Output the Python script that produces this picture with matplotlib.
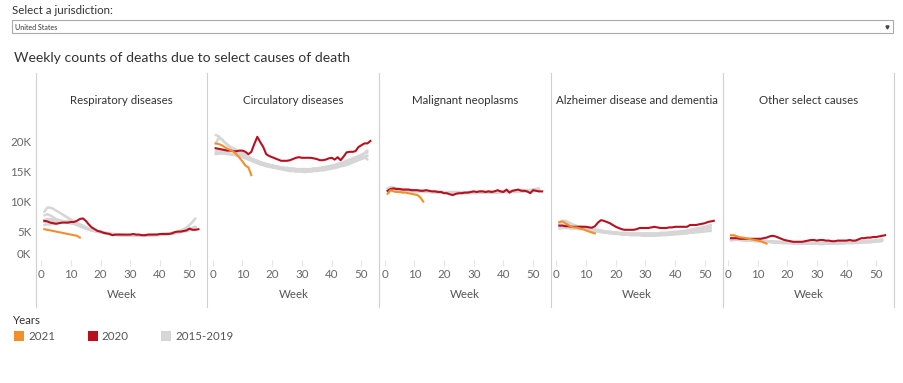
import matplotlib
matplotlib.use("Agg")
import matplotlib.pyplot as plt
from matplotlib.lines import Line2D
from matplotlib.patches import Rectangle
import matplotlib.transforms as mtrans
import numpy as np

plt.rcParams['font.family'] = ['Lato', 'DejaVu Sans']

# ---------------- data (weekly deaths, thousands) ----------------
causes = ["Respiratory diseases", "Circulatory diseases", "Malignant neoplasms",
          "Alzheimer disease and dementia", "Other select causes"]
years_hist = ["2015", "2016", "2017", "2018", "2019"]
x_ticks = [0, 10, 20, 30, 40, 50]
y_ticks = [0, 5, 10, 15, 20]
y_tick_labels = ["0K", "5K", "10K", "15K", "20K"]
legend_labels = ["2021", "2020", "2015-2019"]

# Respiratory diseases
resp_2020 = [6.7, 6.6, 6.4, 6.3, 6.2, 6.3, 6.4, 6.4, 6.4, 6.5,
             6.5, 6.7, 7.0, 7.1, 6.7, 6.1, 5.6, 5.3, 5.0, 4.9,
             4.7, 4.6, 4.5, 4.3, 4.4, 4.4, 4.4, 4.4, 4.4, 4.4,
             4.5, 4.4, 4.4, 4.3, 4.3, 4.4, 4.4, 4.4, 4.4, 4.5,
             4.5, 4.5, 4.5, 4.6, 4.8, 4.9, 4.9, 5.0, 5.1, 5.4,
             5.2, 5.2, 5.3]
resp_2021 = [5.3, 5.2, 5.1, 5.0, 4.9, 4.8, 4.7, 4.6, 4.5, 4.4, 4.3, 4.2, 3.9]
resp_2015 = [7.6, 7.8, 7.6, 7.3, 7.0, 6.8, 6.6, 6.5, 6.4, 6.3, 6.2, 6.0, 5.8, 5.6, 5.4, 5.3, 5.1, 5.0,
             4.9, 4.8, 4.7, 4.6, 4.5, 4.5, 4.4, 4.3, 4.3, 4.2, 4.2, 4.2, 4.2, 4.2, 4.2, 4.2, 4.2, 4.2,
             4.3, 4.3, 4.3, 4.3, 4.4, 4.4, 4.5, 4.5, 4.6, 4.7, 4.8, 4.9, 5.0, 5.1, 5.3, 5.6]
resp_2016 = [6.0, 6.1, 6.1, 6.2, 6.3, 6.4, 6.5, 6.6, 6.7, 6.6, 6.5, 6.3, 6.1, 5.9, 5.6, 5.4, 5.2, 5.0,
             4.9, 4.8, 4.7, 4.6, 4.5, 4.5, 4.4, 4.4, 4.3, 4.3, 4.3, 4.3, 4.2, 4.2, 4.2, 4.3, 4.3, 4.3,
             4.3, 4.4, 4.4, 4.4, 4.5, 4.5, 4.6, 4.6, 4.7, 4.8, 4.9, 5.0, 5.2, 5.3, 5.5, 5.7]
resp_2017 = [6.8, 7.0, 7.0, 6.9, 6.8, 6.8, 6.7, 6.6, 6.5, 6.3, 6.2, 6.0, 5.8, 5.6, 5.4, 5.2, 5.1, 5.0,
             4.9, 4.8, 4.7, 4.6, 4.5, 4.4, 4.4, 4.3, 4.3, 4.3, 4.2, 4.2, 4.2, 4.2, 4.2, 4.2, 4.3, 4.3,
             4.3, 4.3, 4.4, 4.4, 4.5, 4.5, 4.6, 4.7, 4.8, 4.9, 5.1, 5.3, 5.6, 6.0, 6.5, 7.1]
resp_2018 = [8.2, 8.9, 8.9, 8.7, 8.4, 8.1, 7.8, 7.5, 7.2, 6.9, 6.6, 6.3, 6.0, 5.8, 5.6, 5.4, 5.2, 5.1,
             5.0, 4.9, 4.8, 4.7, 4.6, 4.5, 4.5, 4.4, 4.4, 4.3, 4.3, 4.3, 4.3, 4.3, 4.3, 4.3, 4.3, 4.3,
             4.4, 4.4, 4.4, 4.4, 4.5, 4.5, 4.6, 4.6, 4.7, 4.8, 4.9, 5.0, 5.1, 5.3, 5.5, 5.7]
resp_2019 = [6.5, 6.6, 6.6, 6.6, 6.6, 6.6, 6.6, 6.6, 6.5, 6.4, 6.3, 6.1, 5.9, 5.7, 5.5, 5.3, 5.1, 5.0,
             4.9, 4.8, 4.7, 4.6, 4.5, 4.5, 4.4, 4.4, 4.3, 4.3, 4.3, 4.3, 4.2, 4.2, 4.2, 4.2, 4.3, 4.3,
             4.3, 4.3, 4.4, 4.4, 4.4, 4.5, 4.5, 4.6, 4.7, 4.8, 4.9, 5.0, 5.1, 5.3, 5.4, 5.6]

# Circulatory diseases
circ_2020 = [18.8, 18.7, 18.6, 18.5, 18.4, 18.4, 18.3, 18.3, 18.4, 18.4,
             18.2, 17.8, 18.2, 19.5, 20.7, 19.8, 19.0, 17.8, 17.5, 17.3,
             17.1, 16.9, 16.7, 16.7, 16.7, 16.8, 17.0, 17.2, 17.3, 17.2,
             17.2, 17.2, 17.2, 17.1, 17.0, 16.8, 16.8, 16.9, 17.1, 17.2,
             16.9, 17.3, 16.8, 17.4, 18.1, 18.2, 18.2, 18.3, 19.0, 19.3,
             19.6, 19.6, 20.0]
circ_2021 = [19.6, 19.5, 19.3, 19.0, 18.7, 18.5, 18.2, 17.8, 17.2, 16.6, 15.9, 15.6, 14.3]
circ_2015 = [21.0, 20.8, 20.3, 19.8, 19.4, 19.0, 18.8, 18.5, 18.2, 18.0, 17.7, 17.4, 17.1, 16.9, 16.7,
             16.5, 16.3, 16.2, 16.0, 15.9, 15.8, 15.7, 15.6, 15.5, 15.4, 15.3, 15.3, 15.2, 15.2, 15.1,
             15.1, 15.1, 15.1, 15.1, 15.2, 15.2, 15.3, 15.3, 15.4, 15.5, 15.6, 15.7, 15.8, 15.9, 16.0,
             16.2, 16.4, 16.6, 16.8, 17.0, 17.2, 17.5]
circ_2016 = [18.0, 18.2, 18.1, 18.0, 17.9, 17.8, 17.7, 17.6, 17.4, 17.3, 17.1, 16.9, 16.7, 16.5, 16.3,
             16.1, 16.0, 15.8, 15.7, 15.6, 15.5, 15.4, 15.3, 15.2, 15.1, 15.0, 15.0, 14.9, 14.9, 14.9,
             14.8, 14.9, 14.9, 15.0, 15.0, 15.1, 15.1, 15.2, 15.3, 15.4, 15.5, 15.6, 15.8, 15.9, 16.1,
             16.3, 16.5, 16.7, 16.9, 17.1, 17.3, 17.6]
circ_2017 = [18.4, 18.6, 18.5, 18.3, 18.1, 17.9, 17.7, 17.6, 17.5, 17.4, 17.2, 17.0, 16.8, 16.6, 16.4,
             16.2, 16.0, 15.9, 15.8, 15.7, 15.6, 15.5, 15.4, 15.3, 15.2, 15.2, 15.1, 15.1, 15.0, 15.0,
             15.0, 15.0, 15.1, 15.1, 15.2, 15.2, 15.3, 15.4, 15.5, 15.6, 15.7, 15.9, 16.0, 16.2, 16.4,
             16.6, 16.8, 17.0, 17.3, 17.6, 18.0, 18.4]
circ_2018 = [19.5, 20.5, 20.3, 19.8, 19.3, 18.9, 18.5, 18.2, 17.9, 17.7, 17.4, 17.2, 17.0, 16.8, 16.6,
             16.4, 16.2, 16.1, 16.0, 15.9, 15.8, 15.7, 15.6, 15.5, 15.5, 15.4, 15.4, 15.3, 15.3, 15.3,
             15.3, 15.3, 15.3, 15.4, 15.4, 15.5, 15.5, 15.6, 15.7, 15.8, 15.9, 16.0, 16.2, 16.3, 16.5,
             16.7, 16.9, 17.1, 17.3, 17.4, 17.4, 16.9]
circ_2019 = [17.8, 17.9, 17.9, 17.9, 17.8, 17.8, 17.7, 17.7, 17.6, 17.5, 17.4, 17.2, 17.0, 16.8, 16.6,
             16.4, 16.2, 16.1, 16.0, 15.9, 15.8, 15.7, 15.6, 15.5, 15.5, 15.4, 15.4, 15.3, 15.3, 15.3,
             15.3, 15.3, 15.3, 15.4, 15.4, 15.5, 15.6, 15.7, 15.8, 15.9, 16.0, 16.2, 16.3, 16.5, 16.7,
             16.9, 17.1, 17.3, 17.5, 17.7, 17.9, 18.1]

# Malignant neoplasms
neo_2020 = [11.7, 12.0, 12.1, 12.0, 12.0, 11.9, 11.9, 11.9, 11.8, 11.8,
            11.8, 11.7, 11.7, 11.8, 11.7, 11.6, 11.6, 11.5, 11.5, 11.3,
            11.3, 11.1, 11.0, 11.2, 11.3, 11.3, 11.4, 11.4, 11.5, 11.6,
            11.5, 11.6, 11.6, 11.5, 11.6, 11.5, 11.6, 11.8, 11.6, 11.5,
            11.9, 11.4, 11.7, 11.8, 11.9, 11.7, 11.7, 11.6, 11.3, 11.8,
            11.7, 11.6, 11.6]
neo_2021 = [11.2, 11.8, 11.6, 11.5, 11.5, 11.4, 11.4, 11.3, 11.2, 11.1, 11.0, 10.6, 9.9]
neo_2015 = [12.0, 12.2, 12.1, 12.0, 11.9, 11.9, 11.8, 11.8, 11.8, 11.7, 11.7, 11.7, 11.6, 11.6, 11.5,
            11.5, 11.5, 11.5, 11.4, 11.4, 11.4, 11.4, 11.4, 11.4, 11.4, 11.4, 11.4, 11.4, 11.4, 11.4,
            11.5, 11.5, 11.5, 11.5, 11.5, 11.5, 11.5, 11.5, 11.5, 11.5, 11.6, 11.6, 11.6, 11.6, 11.6,
            11.6, 11.6, 11.7, 11.7, 11.7, 11.8, 11.6]
neo_2016 = [11.6, 11.8, 11.8, 11.8, 11.7, 11.7, 11.7, 11.7, 11.6, 11.6, 11.6, 11.6, 11.5, 11.5, 11.5,
            11.5, 11.4, 11.4, 11.4, 11.4, 11.3, 11.3, 11.3, 11.3, 11.3, 11.3, 11.3, 11.3, 11.3, 11.3,
            11.3, 11.4, 11.4, 11.4, 11.4, 11.4, 11.4, 11.4, 11.4, 11.5, 11.5, 11.5, 11.5, 11.5, 11.5,
            11.6, 11.6, 11.6, 11.6, 11.7, 11.8, 11.9]
neo_2017 = [12.1, 12.3, 12.2, 12.1, 12.0, 12.0, 11.9, 11.9, 11.9, 11.8, 11.8, 11.7, 11.7, 11.7, 11.6,
            11.6, 11.6, 11.5, 11.5, 11.5, 11.5, 11.5, 11.5, 11.5, 11.5, 11.5, 11.5, 11.5, 11.5, 11.5,
            11.5, 11.5, 11.5, 11.5, 11.6, 11.6, 11.6, 11.6, 11.6, 11.6, 11.7, 11.7, 11.7, 11.7, 11.7,
            11.8, 11.8, 11.8, 11.8, 11.9, 12.0, 12.1]
neo_2018 = [12.0, 12.3, 12.2, 12.1, 12.0, 11.9, 11.9, 11.8, 11.8, 11.8, 11.7, 11.7, 11.7, 11.6, 11.6,
            11.6, 11.5, 11.5, 11.5, 11.5, 11.4, 11.4, 11.4, 11.4, 11.4, 11.4, 11.4, 11.4, 11.4, 11.4,
            11.4, 11.5, 11.5, 11.5, 11.5, 11.5, 11.5, 11.5, 11.5, 11.6, 11.6, 11.6, 11.6, 11.6, 11.7,
            11.7, 11.7, 11.8, 11.8, 11.9, 11.9, 11.7]
neo_2019 = [11.7, 11.9, 11.9, 11.9, 11.8, 11.8, 11.8, 11.8, 11.7, 11.7, 11.7, 11.7, 11.6, 11.6, 11.6,
            11.5, 11.5, 11.5, 11.5, 11.4, 11.4, 11.4, 11.4, 11.4, 11.4, 11.4, 11.4, 11.4, 11.5, 11.5,
            11.5, 11.5, 11.5, 11.5, 11.5, 11.5, 11.5, 11.6, 11.6, 11.6, 11.6, 11.6, 11.6, 11.7, 11.7,
            11.7, 11.7, 11.8, 11.8, 11.9, 12.0, 12.0]

# Alzheimer disease and dementia
alz_2020 = [5.9, 5.9, 5.8, 5.8, 5.7, 5.7, 5.7, 5.7, 5.7, 5.7,
            5.6, 5.55, 5.8, 6.4, 6.8, 6.7, 6.5, 6.3, 6.0, 5.7,
            5.5, 5.3, 5.2, 5.2, 5.2, 5.2, 5.3, 5.5, 5.5, 5.5,
            5.5, 5.6, 5.7, 5.6, 5.5, 5.5, 5.5, 5.6, 5.6, 5.7,
            5.7, 5.7, 5.7, 5.7, 6.0, 6.0, 6.0, 6.1, 6.2, 6.3,
            6.5, 6.6, 6.7]
alz_2021 = [6.5, 6.6, 6.3, 6.0, 5.7, 5.6, 5.55, 5.4, 5.3, 5.1, 4.9, 4.75, 4.6]
alz_2015 = [6.2, 6.6, 6.5, 6.3, 6.1, 5.9, 5.7, 5.6, 5.5, 5.4, 5.3, 5.2, 5.1, 5.0, 4.9, 4.8, 4.8, 4.7,
            4.7, 4.6, 4.6, 4.5, 4.5, 4.5, 4.4, 4.4, 4.4, 4.4, 4.3, 4.3, 4.3, 4.3, 4.3, 4.3, 4.3, 4.4,
            4.4, 4.4, 4.4, 4.5, 4.5, 4.5, 4.6, 4.6, 4.7, 4.7, 4.8, 4.8, 4.9, 4.9, 5.0, 5.0]
alz_2016 = [5.4, 5.5, 5.5, 5.5, 5.4, 5.4, 5.4, 5.3, 5.3, 5.2, 5.2, 5.1, 5.0, 4.9, 4.8, 4.7, 4.7, 4.6,
            4.6, 4.5, 4.5, 4.4, 4.4, 4.4, 4.3, 4.3, 4.3, 4.3, 4.2, 4.2, 4.2, 4.2, 4.2, 4.3, 4.3, 4.3,
            4.3, 4.4, 4.4, 4.5, 4.5, 4.6, 4.6, 4.7, 4.8, 4.9, 5.0, 5.1, 5.2, 5.3, 5.4, 5.5]
alz_2017 = [5.8, 6.0, 6.0, 5.9, 5.8, 5.7, 5.6, 5.5, 5.5, 5.4, 5.3, 5.2, 5.1, 5.0, 4.9, 4.9, 4.8, 4.7,
            4.7, 4.6, 4.6, 4.5, 4.5, 4.5, 4.4, 4.4, 4.4, 4.4, 4.4, 4.4, 4.4, 4.4, 4.4, 4.4, 4.5, 4.5,
            4.5, 4.5, 4.6, 4.6, 4.7, 4.7, 4.8, 4.9, 5.0, 5.1, 5.2, 5.3, 5.5, 5.6, 5.8, 5.9]
alz_2018 = [6.3, 6.7, 6.7, 6.5, 6.2, 6.0, 5.8, 5.7, 5.5, 5.4, 5.3, 5.2, 5.1, 5.0, 4.9, 4.9, 4.8, 4.8,
            4.7, 4.7, 4.6, 4.6, 4.6, 4.5, 4.5, 4.5, 4.5, 4.5, 4.5, 4.5, 4.5, 4.5, 4.5, 4.5, 4.6, 4.6,
            4.6, 4.6, 4.7, 4.7, 4.8, 4.8, 4.9, 5.0, 5.1, 5.2, 5.3, 5.4, 5.5, 5.6, 5.6, 5.4]
alz_2019 = [5.9, 6.0, 6.0, 6.0, 5.9, 5.9, 5.8, 5.8, 5.7, 5.6, 5.5, 5.4, 5.3, 5.2, 5.1, 5.0, 4.9, 4.9,
            4.8, 4.8, 4.7, 4.7, 4.7, 4.6, 4.6, 4.6, 4.6, 4.6, 4.6, 4.6, 4.6, 4.6, 4.6, 4.6, 4.7, 4.7,
            4.7, 4.8, 4.8, 4.9, 4.9, 5.0, 5.0, 5.1, 5.2, 5.3, 5.4, 5.5, 5.6, 5.7, 5.8, 6.0]

# Other select causes
oth_2020 = [3.8, 3.8, 3.8, 3.7, 3.7, 3.7, 3.7, 3.7, 3.7, 3.7,
            3.7, 3.8, 3.9, 4.1, 4.2, 4.1, 3.9, 3.7, 3.5, 3.4,
            3.3, 3.2, 3.2, 3.2, 3.2, 3.3, 3.4, 3.5, 3.5, 3.4,
            3.5, 3.5, 3.4, 3.4, 3.3, 3.3, 3.4, 3.4, 3.4, 3.4,
            3.5, 3.4, 3.4, 3.6, 3.8, 3.8, 3.9, 3.9, 4.0, 4.0,
            4.1, 4.2, 4.3]
oth_2021 = [4.3, 4.3, 4.1, 3.95, 3.9, 3.8, 3.7, 3.6, 3.5, 3.4, 3.3, 3.1, 2.9]
oth_2015 = [3.6, 3.7, 3.6, 3.6, 3.5, 3.5, 3.4, 3.4, 3.4, 3.3, 3.3, 3.3, 3.2, 3.2, 3.1, 3.1, 3.1, 3.0,
            3.0, 3.0, 3.0, 2.9, 2.9, 2.9, 2.9, 2.9, 2.9, 2.9, 2.9, 2.9, 2.8, 2.8, 2.9, 2.9, 2.9, 2.9,
            2.9, 2.9, 2.9, 3.0, 3.0, 3.0, 3.0, 3.0, 3.1, 3.1, 3.1, 3.1, 3.2, 3.2, 3.3, 3.3]
oth_2016 = [3.4, 3.5, 3.5, 3.5, 3.4, 3.4, 3.4, 3.4, 3.3, 3.3, 3.3, 3.2, 3.2, 3.2, 3.1, 3.1, 3.1, 3.0,
            3.0, 3.0, 3.0, 3.0, 2.9, 2.9, 2.9, 2.9, 2.9, 2.9, 2.9, 2.9, 2.9, 2.9, 2.9, 2.9, 2.9, 2.9,
            3.0, 3.0, 3.0, 3.0, 3.0, 3.0, 3.1, 3.1, 3.1, 3.1, 3.2, 3.2, 3.2, 3.3, 3.3, 3.4]
oth_2017 = [3.6, 3.8, 3.7, 3.6, 3.6, 3.5, 3.5, 3.4, 3.4, 3.4, 3.3, 3.3, 3.3, 3.2, 3.2, 3.2, 3.1, 3.1,
            3.1, 3.0, 3.0, 3.0, 3.0, 3.0, 3.0, 3.0, 3.0, 3.0, 3.0, 3.0, 3.0, 3.0, 3.0, 3.0, 3.0, 3.0,
            3.0, 3.0, 3.1, 3.1, 3.1, 3.1, 3.1, 3.2, 3.2, 3.2, 3.3, 3.3, 3.3, 3.4, 3.5, 3.6]
oth_2018 = [3.8, 3.9, 3.8, 3.7, 3.7, 3.6, 3.5, 3.5, 3.4, 3.4, 3.4, 3.3, 3.3, 3.3, 3.2, 3.2, 3.2, 3.1,
            3.1, 3.1, 3.1, 3.0, 3.0, 3.0, 3.0, 3.0, 3.0, 3.0, 3.0, 3.0, 3.0, 3.0, 3.0, 3.0, 3.0, 3.1,
            3.1, 3.1, 3.1, 3.1, 3.1, 3.2, 3.2, 3.2, 3.2, 3.3, 3.3, 3.3, 3.4, 3.4, 3.5, 3.4]
oth_2019 = [3.6, 3.6, 3.6, 3.6, 3.5, 3.5, 3.5, 3.5, 3.4, 3.4, 3.4, 3.4, 3.3, 3.3, 3.3, 3.2, 3.2, 3.2,
            3.1, 3.1, 3.1, 3.1, 3.1, 3.0, 3.0, 3.0, 3.0, 3.0, 3.0, 3.0, 3.0, 3.0, 3.0, 3.0, 3.1, 3.1,
            3.1, 3.1, 3.1, 3.2, 3.2, 3.2, 3.2, 3.3, 3.3, 3.3, 3.4, 3.4, 3.4, 3.5, 3.5, 3.6]

series_2020 = [resp_2020, circ_2020, neo_2020, alz_2020, oth_2020]
series_2021 = [resp_2021, circ_2021, neo_2021, alz_2021, oth_2021]
series_hist = [
    [resp_2015, resp_2016, resp_2017, resp_2018, resp_2019],
    [circ_2015, circ_2016, circ_2017, circ_2018, circ_2019],
    [neo_2015, neo_2016, neo_2017, neo_2018, neo_2019],
    [alz_2015, alz_2016, alz_2017, alz_2018, alz_2019],
    [oth_2015, oth_2016, oth_2017, oth_2018, oth_2019],
]

# ---------------- styling ----------------
C21 = "#F28E2B"
C20 = "#B8101F"
CH = "#D6D6D6"
SEP = "#CFCFCF"
TXT = "#333333"
TICK = "#666666"
FS = 8.3

W, H = 904, 383
fig = plt.figure(figsize=(W / 100, H / 100), dpi=100)


def fx(px):
    return px / W


def fy(py):
    return 1 - py / H


edges = [36, 207.3, 379.3, 551, 722.7, 894]
top_px, bot_px = 127, 263
y_bottom = (261 - bot_px) / 6.0
y_top = (261 - top_px) / 6.0

for i, cause in enumerate(causes):
    l, r = edges[i], edges[i + 1]
    ax = fig.add_axes([fx(l), fy(bot_px), (r - l) / W, (bot_px - top_px) / H])
    ax.set_facecolor("none")
    for s in ax.spines.values():
        s.set_visible(False)
    for ys in series_hist[i]:
        ax.plot(np.arange(1, len(ys) + 1), ys, color=CH, lw=1.8, solid_capstyle="round",
                solid_joinstyle="round")
    y20 = series_2020[i]
    ax.plot(np.arange(1, len(y20) + 1), y20, color=C20, lw=1.5, solid_joinstyle="round")
    y21 = series_2021[i]
    ax.plot(np.arange(1, len(y21) + 1), y21, color=C21, lw=1.5, solid_joinstyle="round")
    ax.set_xlim(-1.8, 56)
    ax.set_ylim(y_bottom, y_top)
    ax.set_xticks(x_ticks)
    ax.set_xticklabels([str(t) for t in x_ticks])
    ax.tick_params(axis="x", direction="inout", length=4, width=0.8, color="#E4E4E4",
                   labelsize=FS, labelcolor=TICK, pad=2.0)
    if i == 0:
        ax.set_yticks(y_ticks)
        ax.set_yticklabels(y_tick_labels)
        ax.tick_params(axis="y", length=0, labelsize=FS, labelcolor=TICK, pad=3.5)
        lab0 = ax.get_yticklabels()[0]
        lab0.set_transform(lab0.get_transform() +
                           mtrans.ScaledTranslation(0, 7 / 100, fig.dpi_scale_trans))
    else:
        ax.set_yticks([])
    cx = (l + r) / 2
    fig.text(fx(cx), fy(100), cause, ha="center", va="center", fontsize=FS, color=TXT)
    fig.text(fx(cx), fy(295), "Week", ha="center", va="center", fontsize=FS, color="#555555")

# separators
for e in edges:
    fig.add_artist(Line2D([fx(e), fx(e)], [fy(73), fy(307)], color=SEP, lw=0.8))

# header texts
fig.text(fx(12), fy(11), "Select a jurisdiction:", ha="left", va="center", fontsize=FS, color=TXT)
fig.add_artist(Rectangle((fx(12), fy(33.3)), fx(893) - fx(12), (33.3 - 20.3) / H,
                         facecolor="white", edgecolor="#AAAAAA", lw=0.8))
fig.text(fx(15), fy(27), "United States", ha="left", va="center", fontsize=5, color=TXT)
fig.add_artist(Line2D([fx(887)], [fy(26.5)], marker="v", markersize=2.2, color="#444444", lw=0))
fig.text(fx(14), fy(58), "Weekly counts of deaths due to select causes of death", ha="left",
         va="center", fontsize=10.1, color=TXT)

# legend
fig.text(fx(12), fy(320), "Years", ha="left", va="center", fontsize=FS, color=TXT)
leg_cols = [C21, C20, CH]
leg_x = [14, 87.7, 161]
for lx, col, lab in zip(leg_x, leg_cols, legend_labels):
    fig.add_artist(Rectangle((fx(lx), fy(340.7)), 10 / W, 10 / H, facecolor=col, edgecolor="none"))
    fig.text(fx(lx + 14), fy(336), lab, ha="left", va="center", fontsize=FS, color="#555555")

fig.savefig("out.png", dpi=100)
